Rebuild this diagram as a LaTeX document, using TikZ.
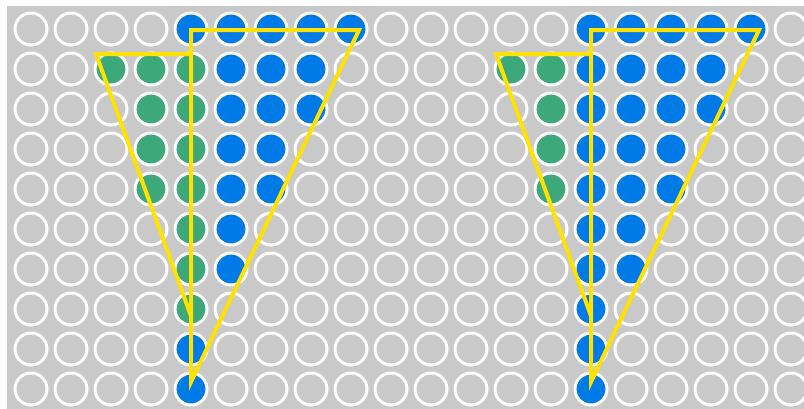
\documentclass[tikz,border=0pt]{standalone}
\usepackage{xcolor}
\usepackage{tikz}
\usetikzlibrary{backgrounds}
\definecolor{gridgray}{RGB}{201,201,201}
\definecolor{dotblue}{RGB}{0,122,230}
\definecolor{dotgreen}{RGB}{61,168,122}
\definecolor{lineyellow}{RGB}{255,226,0}

\begin{document}
\begin{tikzpicture}[x=1pt,y=-1pt,
  dot/.style={circle,draw=white,line width=3pt,minimum size=32pt,inner sep=0pt},
  bl/.style={fill=dotblue},
  gr/.style={fill=dotgreen},
  tri/.style={draw=lineyellow,line width=4pt,line join=miter}]
\useasboundingbox (0,0) rectangle (804,408);
% grid of rings
\foreach \r in {1,...,10}
  \foreach \c in {1,...,20}
    \node[dot] (d-\c-\r) at ({31+40*(\c-1)},{29+40*(\r-1)}) {};
% fills: row/first/last
\begin{scope}[on background layer]
\fill[gridgray] (7,6) rectangle (810,412);
\foreach \r/\a/\b in {1/5/9,2/6/8,3/6/8,4/6/7,5/6/7,6/6/6,7/6/6,9/5/5,10/5/5,
    1/15/19,2/15/18,3/15/18,4/15/17,5/15/17,6/15/16,7/15/16,8/15/15,9/15/15,10/15/15}
  \foreach \c in {\a,...,\b}
    \fill[bl] (d-\c-\r.center) circle (15pt);
\foreach \r/\a/\b in {2/3/5,3/4/5,4/4/5,5/4/5,6/5/5,7/5/5,8/5/5,
    2/13/14,3/14/14,4/14/14,5/14/14}
  \foreach \c in {\a,...,\b}
    \fill[gr] (d-\c-\r.center) circle (15pt);
\end{scope}
% yellow triangles
\foreach \p/\x in {l/0,r/400}{
  \coordinate (\p-tip) at (191+\x,382);
  \coordinate (\p-a) at (96+\x,54);
  \coordinate (\p-b) at (191+\x,54);
  \coordinate (\p-c) at (191+\x,30);
  \coordinate (\p-d) at (359+\x,30);
  \coordinate (\p-e) at (191+\x,316);
  \draw[tri] (\p-e) -- (\p-a) -- (\p-b);
  \draw[tri] (\p-c) -- (\p-d) -- (\p-tip) -- cycle;
}
\end{tikzpicture}
\end{document}
